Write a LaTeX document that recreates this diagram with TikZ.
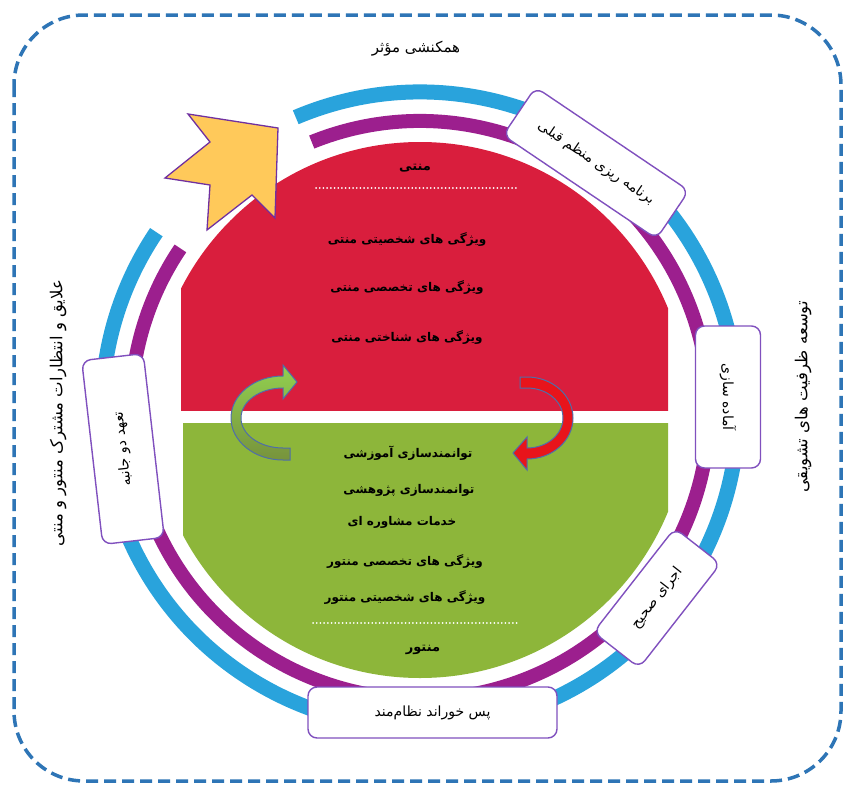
\documentclass[tikz,border=0pt]{standalone}
\usepackage{fontspec}
\newfontfamily\arabicfont[Script=Arabic]{DejaVu Sans}
\TeXXeTstate=1
\newcommand\pers[1]{{\arabicfont\beginR #1\endR}}
\definecolor{dashblue}{RGB}{46,117,182}
\definecolor{ringblue}{RGB}{41,163,220}
\definecolor{ringpurple}{RGB}{156,31,142}
\definecolor{diskred}{RGB}{217,30,61}
\definecolor{diskgreen}{RGB}{141,182,58}
\definecolor{staryellow}{RGB}{255,201,90}
\definecolor{arrowpurple}{RGB}{112,48,160}
\definecolor{boxpurple}{RGB}{128,80,190}
\definecolor{arrowline}{RGB}{79,110,170}
\definecolor{arrowred}{RGB}{232,20,27}
\definecolor{lightgreen}{RGB}{146,208,80}
\definecolor{darkgreen}{RGB}{119,147,60}
\tikzset{
  boxnode/.style={draw=boxpurple, line width=1.4pt, fill=white, rounded corners=9pt, inner sep=0pt, font=\fontsize{14}{16}\selectfont},
  content/.style={inner sep=0pt, font=\bfseries\fontsize{12}{14}\selectfont},
  sidetext/.style={inner sep=0pt, font=\fontsize{16.5}{18}\selectfont},
  dotline/.style={white, line width=1.8pt, dash pattern=on 0.1pt off 3.6pt, line cap=round},
}
\begin{document}
\begin{tikzpicture}[x=1pt,y=-1pt]
\useasboundingbox (0,0) rectangle (849,787);
\fill[white] (0,0) rectangle (849,787);
% dashed frame
\draw[dashblue, line width=3.5pt, dash pattern=on 12pt off 6pt, rounded corners=70pt] (14,15) rectangle (841,781);
% rings
\coordinate (C) at (420,410);
\draw[ringblue, line width=15pt] (C) ++(247:318) arc[start angle=247, end angle=574, radius=318];
\draw[ringpurple, line width=14pt] (C) ++(248:289) arc[start angle=248, end angle=574, radius=289];
% disk halves
\begin{scope}
  \clip (181,100) rectangle (668,410);
  \fill[diskred] (C) circle[radius=268];
\end{scope}
\begin{scope}
  \clip (183,423) rectangle (668,700);
  \fill[diskgreen] (C) circle[radius=268];
\end{scope}
% dotted separators
\draw[dotline] (316,188) -- (517,188);
\draw[dotline] (313,623) -- (517,623);
% yellow arrow
\draw[arrowpurple, fill=staryellow, line width=1.3pt, line join=miter]
  (278,128) -- (188,114) -- (210,142) -- (165,178) -- (210,185) -- (207,230) -- (252,195) -- (275,218) -- cycle;
% green curved arrow
\path[draw=arrowline, line width=1pt, top color=lightgreen, bottom color=darkgreen]
  (283,376) arc[start angle=270, end angle=90, x radius=52, y radius=42]
  -- (290,460) -- (290,448) -- (283,448)
  arc[start angle=90, end angle=270, x radius=42, y radius=30]
  -- (283,399) -- (297,382) -- (283,365) -- cycle;
% red curved arrow
\path[draw=arrowline, line width=1pt, fill=arrowred]
  (520,377) -- (527,377) arc[start angle=270, end angle=450, x radius=46, y radius=41]
  -- (527,470) -- (513,453) -- (527,437) -- (527,448)
  arc[start angle=90, end angle=-90, x radius=36, y radius=30]
  -- (520,388) -- cycle;
% boxes
\node[boxnode, minimum width=185pt, minimum height=58pt, rotate=-34] (plan) at (596,163) {\pers{برنامه ریزی منظم قبلی}};
\node[boxnode, minimum width=142pt, minimum height=65pt, rotate=-90] (prep) at (728,397) {\pers{آماده سازی}};
\node[boxnode, minimum width=132pt, minimum height=58pt, rotate=52] (exec) at (657,598) {\pers{اجرای صحیح}};
\node[boxnode, minimum width=249pt, minimum height=51pt] (feed) at (432.5,712.5) {\pers{پس خوراند نظام‌مند}};
\node[boxnode, minimum width=185pt, minimum height=62pt, rotate=96.5] (commit) at (123,449) {\pers{تعهد دو جانبه}};
% outer texts
\node[sidetext, font=\fontsize{15}{17}\selectfont] (top) at (416,49) {\pers{همکنشی مؤثر}};
\node[sidetext, rotate=90] (right) at (803,397) {\pers{توسعه ظرفیت های تشویقی}};
\node[sidetext, rotate=90] (left) at (58,413) {\pers{علایق و انتظارات مشترک منتور و منتی}};
% red contents
\node[content, font=\bfseries\fontsize{13}{15}\selectfont] (mentee) at (415,168) {\pers{منتی}};
\node[content] (r1) at (407,240) {\pers{ویژگی های شخصیتی منتی}};
\node[content] (r2) at (407,288) {\pers{ویژگی های تخصصی منتی}};
\node[content] (r3) at (407,338) {\pers{ویژگی های شناختی منتی}};
% green contents
\node[content] (g1) at (408,453) {\pers{توانمندسازی آموزشی}};
\node[content] (g2) at (409,490) {\pers{توانمندسازی پژوهشی}};
\node[content] (g3) at (402,522) {\pers{خدمات مشاوره ای}};
\node[content] (g4) at (405,562) {\pers{ویژگی های تخصصی منتور}};
\node[content] (g5) at (405,597) {\pers{ویژگی های شخصیتی منتور}};
\node[content, font=\bfseries\fontsize{13}{15}\selectfont] (mentor) at (423,650) {\pers{منتور}};
\end{tikzpicture}
\end{document}
